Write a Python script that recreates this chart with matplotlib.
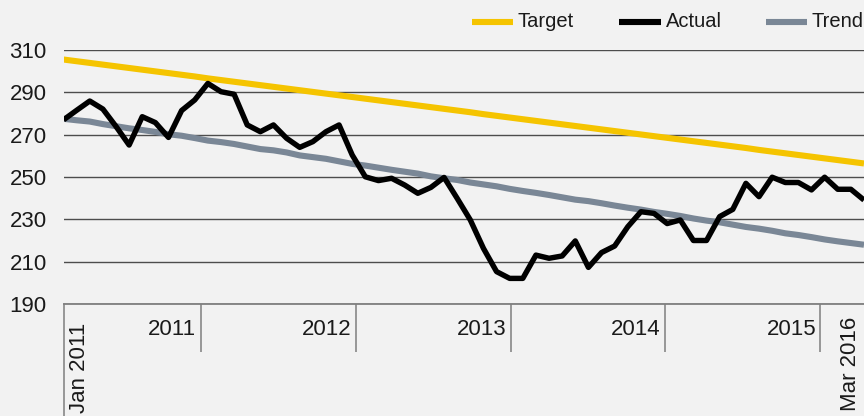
import matplotlib.pyplot as plt
from matplotlib.lines import Line2D

# monthly series, Jan 2011 onwards (image is cut at the right edge)
actual = [277.0, 281.5, 285.9, 282.1, 273.9, 265.1, 278.5, 275.7, 268.7, 281.4,
          286.4, 294.2, 290.3, 289.1, 274.6, 271.4, 274.6, 268.3, 264.0, 266.7,
          271.4, 274.6, 260.4, 250.1, 248.3, 249.4, 246.2, 242.3, 245.1, 249.8,
          239.9, 229.7, 216.3, 205.3, 202.1, 202.1, 213.1, 211.6, 212.7, 219.8,
          207.3, 214.3, 217.4, 226.5, 233.6, 232.8, 228.0, 229.7, 220.0, 220.0,
          231.3, 234.7, 247.0, 240.7, 249.9, 247.4, 247.4, 243.9, 249.9, 244.2,
          244.2, 239.1]
target = [305.5, 304.7, 303.9, 303.1, 302.3, 301.5, 300.7, 299.9, 299.1, 298.3,
          297.5, 296.6, 295.8, 295.0, 294.2, 293.4, 292.6, 291.8, 291.0, 290.2,
          289.4, 288.6, 287.8, 287.0, 286.2, 285.4, 284.6, 283.8, 283.0, 282.2,
          281.4, 280.6, 279.7, 278.9, 278.1, 277.3, 276.5, 275.7, 274.9, 274.1,
          273.3, 272.5, 271.7, 270.9, 270.1, 269.3, 268.5, 267.7, 266.9, 266.1,
          265.3, 264.5, 263.7, 262.8, 262.0, 261.2, 260.4, 259.6, 258.8, 258.0,
          257.2, 256.4]
trend = [277.5, 276.8, 276.2, 275.0, 274.0, 273.0, 272.2, 271.3, 270.2, 269.5,
         268.4, 267.2, 266.5, 265.6, 264.4, 263.2, 262.6, 261.6, 260.2, 259.4,
         258.6, 257.4, 256.2, 255.4, 254.4, 253.4, 252.5, 251.6, 250.3, 249.4,
         248.6, 247.4, 246.5, 245.6, 244.4, 243.4, 242.5, 241.5, 240.4, 239.3,
         238.6, 237.6, 236.5, 235.5, 234.6, 233.5, 232.6, 231.6, 230.4, 229.4,
         228.6, 227.5, 226.4, 225.6, 224.6, 223.4, 222.6, 221.6, 220.5, 219.6,
         218.8, 218.0]
months = list(range(len(actual)))

year_labels = ["2011", "2012", "2013", "2014", "2015"]
year_breaks = [10.45, 22.27, 34.10, 45.84, 57.67]
first_label = "Jan 2011"
last_label = "Mar 2016"
last_pos = 59.95
y_ticks = [190, 210, 230, 250, 270, 290, 310]

c_target = "#f5c400"
c_actual = "#000000"
c_trend = "#7a8796"
bg = "#f2f2f2"
txt = "#1a1a1a"

plt.rcParams['font.family'] = ['Liberation Sans', 'DejaVu Sans']

fig = plt.figure(figsize=(8.64, 4.16), dpi=100, facecolor=bg)
ax = fig.add_axes([0.0735, 1 - 304 / 416, 1 - 0.0735, 254 / 416])
ax.set_facecolor(bg)

ax.plot(months, target, color=c_target, lw=4.4, solid_capstyle='butt', zorder=3)
ax.plot(months, trend, color=c_trend, lw=4.4, solid_capstyle='butt', zorder=3)
ax.plot(months, actual, color=c_actual, lw=3.9, solid_joinstyle='round',
        solid_capstyle='butt', zorder=4)

ax.set_xlim(0, len(months) - 1)
ax.set_ylim(190, 310)
ax.set_yticks(y_ticks)
ax.set_yticklabels([str(v) for v in y_ticks], fontsize=16, color=txt)
ax.tick_params(axis='y', length=0, pad=12)
ax.grid(axis='y', color='#4d4d4d', lw=1)
ax.set_axisbelow(True)

for s in ['left', 'right', 'top']:
    ax.spines[s].set_visible(False)
ax.spines['bottom'].set_color('#7f7f7f')
ax.spines['bottom'].set_linewidth(1.3)

ax.set_xticks(year_breaks)
ax.set_xticklabels([])
ax.tick_params(axis='x', length=34.5, width=1.1, color='#7f7f7f', direction='out')

# long tick at the first month
ax.plot([0, 0], [0, -0.45], transform=ax.transAxes, color='#7f7f7f', lw=1.1,
        clip_on=False)

for lab, pos in zip(year_labels, year_breaks):
    ax.annotate(lab, xy=(pos, 0), xycoords=('data', 'axes fraction'),
                xytext=(-3, -18.7), textcoords='offset points',
                ha='right', va='center', fontsize=16, color=txt)

ax.annotate(first_label, xy=(0, 0), xycoords=('data', 'axes fraction'),
            xytext=(11.5, -13.5), textcoords='offset points',
            ha='center', va='top', rotation=90, fontsize=16, color=txt)
ax.annotate(last_label, xy=(last_pos, 0), xycoords=('data', 'axes fraction'),
            xytext=(0, -9), textcoords='offset points',
            ha='center', va='top', rotation=90, fontsize=16, color=txt)

# legend across the top
legend = [("Target", c_target, 471.7, 518), ("Actual", c_actual, 619, 665.7),
          ("Trend", c_trend, 765.7, 811.7)]
ly = 1 - 21.7 / 416
for name, col, x0, tx in legend:
    fig.add_artist(Line2D([x0 / 864, (x0 + 41.5) / 864], [ly, ly], color=col,
                          lw=4.4, solid_capstyle='butt'))
    fig.text(tx / 864, ly, name, ha='left', va='center', fontsize=14.5, color=txt)

fig.savefig("out.png", dpi=100, facecolor=bg)
